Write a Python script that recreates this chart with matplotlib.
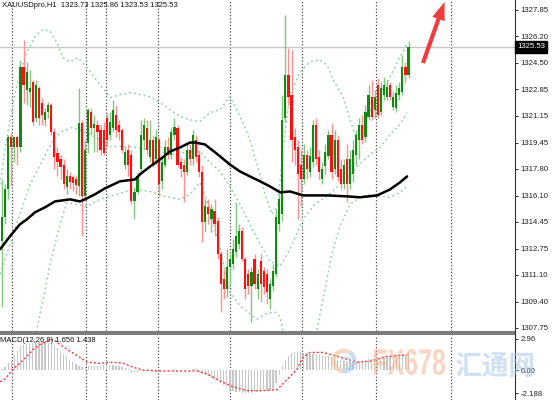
import numpy as np
import matplotlib.pyplot as plt
from matplotlib.patches import FancyArrow, Wedge, PathPatch
from matplotlib.textpath import TextPath
from matplotlib.font_manager import FontProperties
from matplotlib.transforms import Affine2D, blended_transform_factory

plt.rcParams['font.family'] = ['Liberation Sans', 'DejaVu Sans']

# ---- candles (XAUUSD H1) ----
opens = [1313.23, 1314.75, 1316.51, 1319.79, 1319.16, 1319.79, 1319.16, 1324.26, 1322.81, 1322.68,
         1323.31, 1321.05, 1322.94, 1321.99, 1320.92, 1321.42, 1321.87, 1320.16, 1318.84, 1318.40,
         1318.08, 1316.64, 1317.33, 1317.27, 1317.14, 1316.70, 1320.73, 1316.07, 1319.47, 1321.42,
         1320.42, 1320.60, 1320.29, 1320.29, 1321.05, 1319.97, 1320.42, 1321.23, 1320.60, 1320.29,
         1318.08, 1319.03, 1318.71, 1315.75, 1316.32, 1317.77, 1319.66, 1320.42, 1318.53, 1319.66,
         1318.40, 1319.66, 1317.02, 1318.08, 1319.16, 1318.71, 1319.97, 1320.42, 1318.27, 1318.08,
         1317.64, 1319.03, 1318.40, 1319.66, 1318.71, 1317.64, 1314.43, 1315.38, 1314.62, 1315.12,
         1314.49, 1312.42, 1310.84, 1310.21, 1311.60, 1311.78, 1312.54, 1313.04, 1313.86, 1312.10,
         1311.15, 1310.40, 1312.10, 1310.21, 1311.97, 1311.34, 1311.15, 1309.58, 1310.40, 1311.15,
         1314.30, 1314.93, 1321.05, 1323.76, 1322.50, 1319.79, 1319.16, 1318.08, 1317.14, 1318.71,
         1317.64, 1318.21, 1320.60, 1318.53, 1317.14, 1317.96, 1318.59, 1319.97, 1317.77, 1319.66,
         1317.77, 1316.82, 1318.40, 1316.82, 1317.46, 1318.71, 1319.66, 1320.60, 1319.79, 1321.11,
         1322.37, 1321.55, 1323.12, 1321.42, 1322.50, 1322.37, 1323.12, 1321.74, 1321.68, 1322.50,
         1322.68, 1324.26, 1323.73]
highs = [1317.14, 1316.82, 1319.97, 1320.10, 1319.91, 1319.97, 1324.70, 1325.96, 1324.57, 1324.07,
         1323.44, 1323.44, 1323.06, 1322.31, 1321.68, 1322.05, 1321.99, 1320.42, 1319.22, 1318.71,
         1318.40, 1317.77, 1317.64, 1317.39, 1317.39, 1322.94, 1320.92, 1319.66, 1321.68, 1321.68,
         1321.23, 1320.92, 1320.60, 1320.79, 1321.36, 1321.42, 1322.18, 1321.87, 1320.92, 1320.42,
         1319.16, 1319.35, 1319.03, 1316.64, 1317.64, 1320.92, 1321.05, 1320.92, 1320.92, 1319.97,
         1320.29, 1319.79, 1318.53, 1319.66, 1319.79, 1320.42, 1321.05, 1320.60, 1318.53, 1318.40,
         1319.35, 1319.35, 1320.29, 1319.97, 1319.03, 1318.08, 1315.88, 1315.88, 1315.57, 1315.88,
         1314.75, 1312.60, 1311.47, 1312.73, 1312.42, 1313.36, 1315.69, 1314.30, 1314.11, 1312.23,
         1311.47, 1311.60, 1312.42, 1311.47, 1312.42, 1311.60, 1311.47, 1310.84, 1311.78, 1315.25,
         1316.20, 1322.50, 1327.54, 1325.46, 1325.33, 1320.42, 1319.66, 1319.03, 1319.35, 1319.03,
         1319.22, 1320.92, 1321.05, 1319.03, 1318.27, 1319.35, 1320.29, 1320.73, 1320.29, 1319.97,
         1318.40, 1318.40, 1319.35, 1319.03, 1319.66, 1320.29, 1321.05, 1321.23, 1321.87, 1323.12,
         1323.44, 1322.81, 1323.57, 1323.31, 1323.63, 1323.44, 1323.31, 1322.68, 1323.12, 1323.31,
         1325.02, 1324.57, 1325.86]
lows = [1309.08, 1314.30, 1315.88, 1316.70, 1318.21, 1318.08, 1318.90, 1321.99, 1321.87, 1321.74,
        1320.60, 1320.79, 1320.60, 1320.60, 1320.54, 1321.05, 1319.97, 1317.77, 1317.33, 1317.14,
        1316.51, 1316.20, 1316.51, 1316.38, 1316.20, 1316.07, 1313.55, 1315.75, 1318.84, 1319.97,
        1318.90, 1318.90, 1318.71, 1318.71, 1319.22, 1319.66, 1320.16, 1319.85, 1319.66, 1318.84,
        1317.77, 1317.33, 1315.57, 1314.62, 1316.20, 1317.64, 1319.03, 1318.71, 1318.27, 1317.90,
        1318.08, 1316.07, 1316.51, 1317.90, 1318.40, 1318.40, 1319.66, 1317.90, 1317.27, 1315.69,
        1317.39, 1318.08, 1318.08, 1318.27, 1317.27, 1313.17, 1313.80, 1314.30, 1313.80, 1313.55,
        1312.10, 1308.76, 1309.58, 1309.71, 1310.53, 1311.47, 1312.23, 1312.73, 1311.97, 1309.58,
        1309.89, 1308.13, 1310.21, 1309.58, 1309.39, 1309.89, 1309.27, 1308.95, 1310.08, 1310.97,
        1313.86, 1314.49, 1320.79, 1321.87, 1318.21, 1318.08, 1314.62, 1315.44, 1316.82, 1317.14,
        1317.27, 1317.90, 1318.08, 1317.14, 1316.82, 1317.46, 1318.40, 1317.14, 1317.46, 1317.02,
        1316.51, 1316.51, 1315.69, 1316.51, 1316.95, 1318.08, 1318.40, 1319.35, 1319.53, 1320.92,
        1320.92, 1321.05, 1321.05, 1321.23, 1322.18, 1322.18, 1322.18, 1321.55, 1321.42, 1322.18,
        1322.50, 1323.25, 1323.53]
closes = [1314.75, 1316.51, 1319.79, 1319.16, 1319.79, 1319.22, 1324.26, 1323.12, 1323.94, 1322.94,
          1320.79, 1323.12, 1321.05, 1321.23, 1321.42, 1321.87, 1320.16, 1318.53, 1318.21, 1317.90,
          1316.82, 1317.33, 1316.95, 1316.89, 1316.76, 1320.73, 1316.07, 1319.03, 1321.55, 1320.42,
          1320.67, 1320.16, 1319.03, 1318.84, 1319.66, 1320.79, 1321.55, 1320.29, 1320.16, 1319.03,
          1318.90, 1318.08, 1315.75, 1316.32, 1317.33, 1319.97, 1320.60, 1319.03, 1319.66, 1318.08,
          1319.79, 1316.82, 1318.27, 1319.16, 1318.71, 1320.16, 1320.48, 1318.08, 1317.77, 1317.58,
          1319.03, 1318.40, 1319.97, 1318.53, 1317.64, 1314.43, 1315.44, 1314.93, 1315.25, 1314.30,
          1312.42, 1310.53, 1310.21, 1311.60, 1312.10, 1312.73, 1313.55, 1313.86, 1312.10, 1310.21,
          1310.40, 1311.28, 1310.53, 1311.15, 1310.53, 1310.34, 1310.02, 1310.53, 1311.34, 1314.75,
          1315.88, 1320.92, 1323.76, 1322.37, 1319.66, 1319.03, 1317.46, 1317.14, 1318.71, 1317.77,
          1318.59, 1320.60, 1318.40, 1317.64, 1317.77, 1318.90, 1319.97, 1317.64, 1319.66, 1317.27,
          1316.82, 1318.08, 1316.82, 1318.40, 1319.03, 1319.97, 1320.60, 1319.66, 1321.42, 1322.50,
          1321.11, 1322.37, 1321.23, 1322.94, 1323.12, 1323.00, 1322.37, 1322.37, 1322.62, 1322.94,
          1324.26, 1323.76, 1325.53]

# moving average (black), read at bar positions
ma_bar = [-0.6, 2.6, 5.8, 8.1, 10.7, 14.0, 17.2, 22.1, 25.3, 26.9, 30.2, 33.4, 38.3, 43.2, 44.8,
          48.1, 51.3, 54.5, 57.8, 61.0, 62.7, 65.9, 70.1, 74.0, 77.3, 80.5, 83.8, 87.0, 90.3, 93.5,
          97.7, 105.5, 112.0, 116.2, 121.8, 126.0, 129.2, 131.5]
ma_val = [1312.73, 1313.55, 1314.30, 1314.62, 1315.06, 1315.38, 1315.75, 1315.88, 1315.75, 1315.88,
          1316.20, 1316.57, 1317.02, 1317.14, 1317.46, 1317.96, 1318.40, 1318.90, 1319.16, 1319.47,
          1319.47, 1319.35, 1318.71, 1318.08, 1317.64, 1317.33, 1317.02, 1316.70, 1316.32, 1316.38,
          1316.13, 1316.13, 1316.07, 1316.01, 1316.13, 1316.51, 1316.95, 1317.33]

# Bollinger bands (dotted green)
bb_up_bar = [-0.6, 1.0, 2.6, 4.2, 5.8, 8.1, 10.7, 13.0, 15.6, 17.9, 19.8, 22.1, 24.7, 27.6, 31.8,
             35.1, 38.3, 41.6, 44.8, 48.1, 51.3, 54.5, 57.8, 61.0, 64.3, 67.5, 70.8, 74.0, 77.3, 80.5,
             82.8, 85.4, 87.7, 89.6, 91.2, 93.5, 96.8, 100.0, 103.2, 105.5, 107.5, 110.7, 113.0, 114.6,
             116.9, 119.5, 122.7, 126.0, 129.2, 131.5]
bb_up_val = [1316.82, 1319.03, 1320.92, 1322.50, 1323.76, 1325.20, 1326.15, 1326.59, 1326.53, 1325.77,
             1324.83, 1324.57, 1324.83, 1324.20, 1323.12, 1322.31, 1322.50, 1322.62, 1322.50, 1322.37,
             1321.99, 1321.55, 1321.11, 1320.92, 1320.79, 1321.36, 1321.55, 1322.37, 1321.11, 1319.66,
             1318.08, 1316.20, 1314.93, 1315.57, 1319.03, 1322.50, 1323.94, 1324.57, 1324.70, 1324.39,
             1323.44, 1322.37, 1320.92, 1319.97, 1320.29, 1321.42, 1322.50, 1323.63, 1324.89, 1325.65]
bb_mid_bar = [-0.6, 2.6, 5.8, 9.1, 13.3, 16.6, 19.5, 22.7, 27.6, 31.8, 35.1, 41.6, 48.1, 54.5, 61.0,
              64.3, 67.5, 70.8, 74.0, 77.3, 80.5, 83.8, 87.0, 90.3, 93.5, 97.7, 101.6, 105.5, 109.7,
              113.0, 115.3, 119.5, 122.7, 126.0, 129.2, 131.5]
bb_mid_val = [1311.15, 1313.04, 1314.93, 1316.82, 1318.40, 1319.66, 1320.16, 1320.42, 1320.10, 1319.66,
              1319.22, 1319.22, 1319.03, 1318.71, 1318.90, 1318.90, 1318.21, 1317.64, 1316.70, 1315.57,
              1314.30, 1313.04, 1311.97, 1311.66, 1312.73, 1314.62, 1315.57, 1316.07, 1316.82, 1317.46,
              1317.96, 1318.71, 1319.16, 1319.97, 1320.60, 1321.36]
bb_low_bar = [5.8, 11.4, 15.6, 18.8, 21.1, 23.7, 27.6, 31.8, 35.1, 42.5, 48.1, 52.9, 57.8, 61.0, 64.3,
              67.5, 70.8, 74.0, 77.3, 80.5, 82.8, 85.4, 88.6, 90.3, 91.9, 96.8, 102.3, 104.9, 107.1,
              109.7, 113.0, 116.2, 119.5, 122.7, 126.0, 129.2, 131.5]
bb_low_val = [1303.28, 1307.69, 1311.78, 1314.30, 1315.69, 1315.57, 1315.44, 1315.88, 1316.07, 1316.51,
              1316.38, 1316.07, 1315.88, 1316.20, 1316.95, 1315.25, 1312.73, 1310.02, 1309.14, 1308.64,
              1308.32, 1308.64, 1308.76, 1308.45, 1306.75, 1305.48, 1307.69, 1310.21, 1312.42, 1314.18,
              1315.57, 1316.01, 1316.20, 1316.07, 1316.01, 1316.32, 1316.70]

# MACD(12,26,9): main as histogram, signal as dotted line
macd_main = [0.1, 0.3, 0.7, 0.9, 1.4, 1.8, 2.3, 2.4, 2.5, 2.5,
             2.6, 2.7, 2.7, 2.7, 2.7, 2.6, 2.5, 2.3, 2.1, 1.8,
             1.5, 1.3, 1.0, 0.8, 0.6, 0.4, 0.3, 0.3, 0.4, 0.4,
             0.4, 0.4, 0.4, 0.5, 0.5, 0.5, 0.5, 0.4, 0.4, 0.3,
             0.2, 0.1, -0.3, -0.3, -0.2, -0.1, -0.1, -0.1, 0.0, 0.0,
             0.0, 0.05, 0.0, 0.05, 0.0, 0.05, 0.1, 0.05, 0.0, 0.0,
             0.05, 0.05, 0.1, 0.1, -0.2, -0.4, -0.5, -0.6, -0.8, -0.9,
             -1.0, -1.2, -1.4, -1.6, -1.8, -2.0, -2.1, -2.1, -2.2, -2.2,
             -2.2, -2.2, -2.1, -2.1, -2.1, -2.0, -2.0, -1.9, -1.8, -1.2,
             -0.5, 0.4, 1.0, 1.3, 1.6, 1.7, 1.7, 1.7, 1.6, 1.6,
             1.5, 1.5, 1.4, 1.4, 1.3, 1.3, 1.3, 1.2, 1.1, 1.0,
             0.9, 0.9, 0.8, 0.8, 0.8, 0.8, 0.9, 0.9, 1.0, 1.1,
             1.1, 1.1, 1.1, 1.2, 1.2, 1.3, 1.3, 1.3, 1.4, 1.4,
             1.5, 1.5, 1.656]
macd_sig_bar = [-0.6, 1.0, 3.6, 5.8, 8.1, 10.1, 12.3, 15.6, 17.2, 18.8, 22.1, 25.3, 27.6, 31.8, 36.0,
                39.3, 42.5, 45.8, 50.3, 56.8, 63.3, 66.6, 70.8, 75.0, 79.5, 84.7, 89.3, 91.2, 95.8,
                97.7, 100.0, 104.2, 108.8, 112.0, 115.3, 119.5, 125.0, 131.5]
macd_sig_val = [-1.12, -0.84, 0.09, 0.65, 1.31, 1.96, 2.43, 2.90, 2.80, 2.43, 1.78, 1.22, 0.75, 0.65,
                0.75, 0.65, 0.28, 0.0, -0.09, -0.09, -0.09, -0.37, -1.03, -1.59, -1.96, -1.96, -1.87,
                -1.31, 0.09, 1.22, 1.68, 1.68, 1.31, 1.03, 0.75, 0.84, 1.31, 1.438]

price_ticks = [1327.85, 1326.20, 1324.50, 1322.85, 1321.15, 1319.45, 1317.80,
               1316.10, 1314.45, 1312.75, 1311.10, 1309.40, 1307.75]
macd_ticks = [2.96, 0.0, -2.188]
macd_tick_labels = ['2.96', '0.00', '-2.188']
grid_bars = [3.25, 27.3, 33.8, 50.6, 74.0, 97.4, 121.4, 145.8]
last_price = 1325.53
header = 'XAUUSDpro,H1  1323.73 1325.86 1323.53 1325.53'
macd_label = 'MACD(12,26,9) 1.656 1.438'

# ---- figure ----
W, H = 552, 400
fig = plt.figure(figsize=(W / 100, H / 100), dpi=100)


def px_axes(x0, y0, x1, y1):
    return fig.add_axes([x0 / W, 1 - y1 / H, (x1 - x0) / W, (y1 - y0) / H])


ax = px_axes(0, 0, 515, 331)
mx = px_axes(0, 335, 515, 400)

step = 3.08  # pixels per bar
xlim = (-2 / step, 513 / step)

o = np.array(opens)
h = np.array(highs)
l = np.array(lows)
c = np.array(closes)
idx = np.arange(len(c))
up = c >= o

# grid
for a in (ax, mx):
    for g in grid_bars:
        a.axvline(g, color='#4a4a4a', lw=0.9, ls=(0, (1, 1.6)), zorder=0)

ax.axhline(last_price, color='#c8c8c8', lw=1.0, zorder=1)

# bands + MA
bb_style = dict(color='#8fd4a6', lw=1.1, ls=(0, (1.2, 2.0)), zorder=2)
ax.plot(bb_up_bar, bb_up_val, **bb_style)
ax.plot(bb_mid_bar, bb_mid_val, **bb_style)
ax.plot(bb_low_bar, bb_low_val, **bb_style)

# candles
ax.vlines(idx[up], l[up], h[up], color='#80c880', lw=1.0, zorder=3)
ax.vlines(idx[~up], l[~up], h[~up], color='#ff9090', lw=1.0, zorder=3)
body_lo = np.minimum(o, c)
body_h = np.maximum(np.abs(c - o), 0.07)
ax.bar(idx[up], body_h[up], bottom=body_lo[up], width=0.7, color='#128a12', lw=0, zorder=4)
ax.bar(idx[~up], body_h[~up], bottom=body_lo[~up], width=0.7, color='#ff1010', lw=0, zorder=4)

ax.plot(ma_bar, ma_val, color='black', lw=1.8, zorder=5, solid_capstyle='round')

ax.set_xlim(*xlim)
ax.set_ylim(1307.56, 1328.48)

# MACD panel
mx.bar(idx, macd_main, width=0.42, color='#c8c8c8', lw=0, zorder=2)
mx.plot(macd_sig_bar, macd_sig_val, color='#ff3030', lw=1.0, ls=(0, (1.4, 1.6)), zorder=3)
mx.set_xlim(*xlim)
mx.set_ylim(-2.85, 3.34)

for a in (ax, mx):
    for s in ('top', 'left', 'bottom'):
        a.spines[s].set_visible(False)
    a.spines['right'].set_color('#303030')
    a.spines['right'].set_linewidth(0.8)
    a.set_xticks([])
    a.yaxis.tick_right()
    a.tick_params(axis='y', length=2.5, width=0.7, pad=1.5, labelsize=5.6,
                  colors='#303030', labelcolor='#202020')
    a.patch.set_visible(False)

ax.set_yticks(price_ticks)
ax.set_yticklabels([f'{v:.2f}' for v in price_ticks])
mx.set_yticks(macd_ticks)
mx.set_yticklabels(macd_tick_labels)

ax.text(1.004, last_price, f'{last_price:.2f}', transform=blended_transform_factory(ax.transAxes, ax.transData),
        ha='left', va='center', fontsize=5.6, color='white', clip_on=False, zorder=10,
        bbox=dict(boxstyle='square,pad=0.3', fc='black', ec='black'))

# ---- overlay in pixel coordinates ----
ov = fig.add_axes([0, 0, 1, 1])
ov.set_xlim(0, W)
ov.set_ylim(H, 0)
ov.axis('off')
ov.patch.set_visible(False)

ov.fill_between([0, 515], 331.2, 334.6, color='#7c7c7c', lw=0)
ov.plot([515, 515], [331, 335], color='#303030', lw=0.8)

ov.text(1.5, 5.5, header, fontsize=5.5, va='center', ha='left', color='#111111')
ov.text(0.5, 341, macd_label, fontsize=5.5, va='center', ha='left', color='#111111')


def fitted_text(s, x0, y0, x1, y1, color, alpha, prop):
    tp = TextPath((0, 0), s, size=10, prop=prop)
    bb = tp.get_extents()
    tr = (Affine2D().translate(-bb.x0, -bb.y0)
          .scale((x1 - x0) / bb.width, -(y1 - y0) / bb.height)
          .translate(x0, y1))
    ov.add_patch(PathPatch(tr.transform_path(tp), fc=color, ec='none', alpha=alpha, zorder=20))


fitted_text('FX678', 374, 349, 445, 375, '#f6ad86', 0.5,
            FontProperties(family='Liberation Sans', weight='bold'))
fitted_text('汇通网', 456, 352, 533, 377, '#a9c8ea', 0.55,
            FontProperties(family='Noto Sans CJK SC', weight='bold'))
ov.add_patch(Wedge((344, 361), 12.5, 100, 300, width=4.5, fc='#f5b98e', ec='none', alpha=0.55, zorder=20))
ov.add_patch(Wedge((344, 361), 12.5, 300, 460, width=4.5, fc='#9fc3ea', ec='none', alpha=0.55, zorder=20))
ov.add_patch(Wedge((346, 362), 5.5, 200, 40, width=2.5, fc='#9fc3ea', ec='none', alpha=0.5, zorder=20))

ov.add_patch(FancyArrow(423, 63, 21.5, -61, width=4.2, head_width=13, head_length=18,
                        length_includes_head=True, fc='#f03c3c', ec='none', zorder=21))

fig.savefig('out.png', dpi=100)
